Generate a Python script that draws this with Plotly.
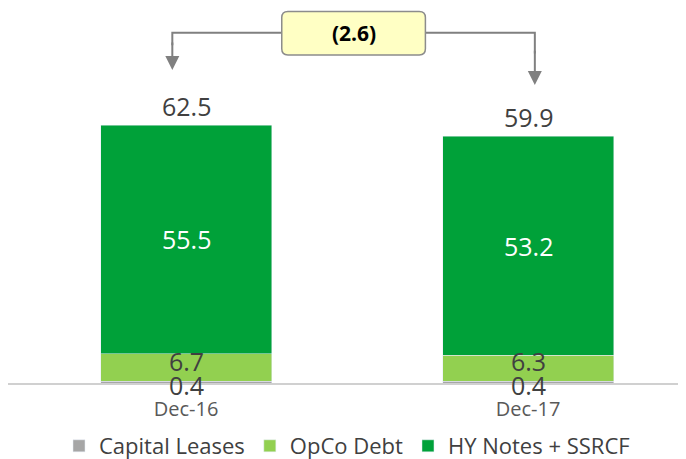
import plotly.graph_objects as go

categories = ["Dec-16", "Dec-17"]
capital_leases = [0.4, 0.4]
opco_debt = [6.7, 6.3]
hy_notes = [55.5, 53.2]
totals = [62.5, 59.9]
delta_label = "(2.6)"

C_GREY = "#A6A6A6"
C_LIGHT = "#92D050"
C_DARK = "#00A139"
TXT = "#404040"
FONT = "Open Sans"
NUM_SIZE = 25

fig = go.Figure()
fig.add_bar(x=categories, y=capital_leases, name="Capital Leases", marker_color=C_GREY)
fig.add_bar(x=categories, y=opco_debt, name="OpCo Debt", marker_color=C_LIGHT)
fig.add_bar(x=categories, y=hy_notes, name="HY Notes + SSRCF", marker_color=C_DARK)

ann = []
for i, c in enumerate(categories):
    cl, od, hy = capital_leases[i], opco_debt[i], hy_notes[i]
    ann.append(dict(x=c, y=cl / 2, text=f"{cl}", showarrow=False, yanchor="middle",
                    yshift=-3, font=dict(size=NUM_SIZE, color=TXT)))
    ann.append(dict(x=c, y=cl + od / 2, text=f"{od}", showarrow=False, yanchor="middle",
                    yshift=7, font=dict(size=NUM_SIZE, color=TXT)))
    ann.append(dict(x=c, y=cl + od + hy / 2, text=f"{hy}", showarrow=False, yanchor="middle",
                    font=dict(size=NUM_SIZE, color="white")))
    ann.append(dict(x=c, y=cl + od + hy, text=f"{totals[i]}", showarrow=False, yanchor="bottom",
                    yshift=0, font=dict(size=NUM_SIZE, color=TXT)))

# delta connector
y_line = 85
x_left, x_right = -0.04, 1.02
box_x0, box_x1 = 0.28, 0.70
box_y0, box_y1 = 79.6, 90.2
rx, ry = 0.018, 1.5
ARROW = "#808080"

shapes = [
    dict(type="path", xref="x", yref="y",
         path=f"M {box_x0} {y_line} L {x_left} {y_line} L {x_left} {y_line - 3}",
         line=dict(color=ARROW, width=2)),
    dict(type="path", xref="x", yref="y",
         path=f"M {box_x1} {y_line} L {x_right} {y_line} L {x_right} {y_line - 5}",
         line=dict(color=ARROW, width=2)),
    dict(type="path", xref="x", yref="y",
         path=(f"M {box_x0 + rx} {box_y0} L {box_x1 - rx} {box_y0} Q {box_x1} {box_y0} {box_x1} {box_y0 + ry} "
               f"L {box_x1} {box_y1 - ry} Q {box_x1} {box_y1} {box_x1 - rx} {box_y1} "
               f"L {box_x0 + rx} {box_y1} Q {box_x0} {box_y1} {box_x0} {box_y1 - ry} "
               f"L {box_x0} {box_y0 + ry} Q {box_x0} {box_y0} {box_x0 + rx} {box_y0} Z"),
         line=dict(color="#8C8C8C", width=1.5), fillcolor="#FFFFC4"),
]

ann.append(dict(x=(box_x0 + box_x1) / 2, y=(box_y0 + box_y1) / 2, text=f"<b>{delta_label}</b>",
                showarrow=False, font=dict(size=21, color="#000000")))
ann.append(dict(x=x_left, y=76, ax=x_left, ay=y_line - 2, axref="x", ayref="y",
                xref="x", yref="y", showarrow=True, arrowhead=2, arrowsize=1.4,
                arrowwidth=2, arrowcolor=ARROW, text=""))
ann.append(dict(x=x_right, y=72.3, ax=x_right, ay=y_line - 4, axref="x", ayref="y",
                xref="x", yref="y", showarrow=True, arrowhead=2, arrowsize=1.4,
                arrowwidth=2, arrowcolor=ARROW, text=""))

fig.update_layout(
    barmode="stack",
    bargap=0.5,
    width=678, height=451,
    margin=dict(l=0, r=0, t=0, b=76, autoexpand=False),
    plot_bgcolor="white", paper_bgcolor="white",
    font=dict(family=FONT, color=TXT),
    showlegend=True,
    legend=dict(orientation="h", x=0.5, xanchor="center", y=-0.112, yanchor="top",
                font=dict(size=22, color=TXT), traceorder="normal", itemwidth=30,
                tracegroupgap=0),
    annotations=ann,
    shapes=shapes,
    xaxis=dict(range=[-178 / 342, 500 / 342], showline=True, linecolor="#D0D0D0", linewidth=2,
               ticks="", tickfont=dict(size=20, color="#595959"), ticklabelstandoff=7,
               showgrid=False, fixedrange=True),
    yaxis=dict(range=[0, 375 / 4.12], visible=False, showgrid=False, zeroline=False, fixedrange=True),
)

fig.write_html("out.html")
